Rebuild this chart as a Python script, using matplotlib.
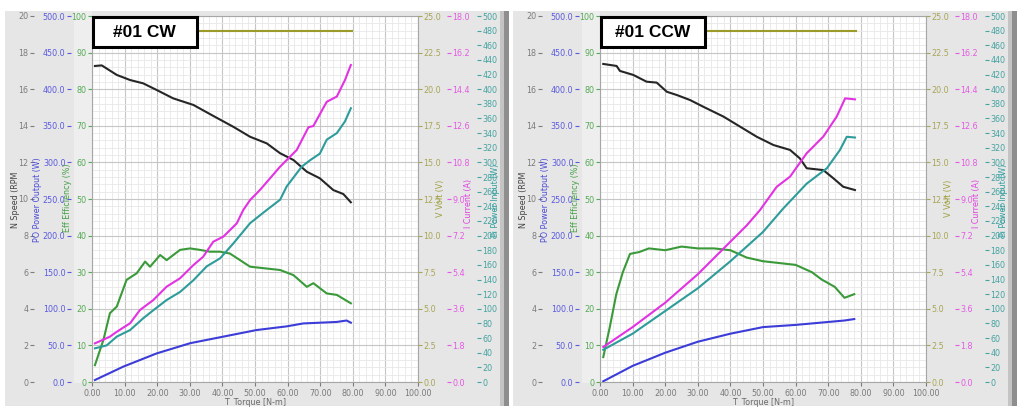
import matplotlib
matplotlib.use("Agg")
import matplotlib.pyplot as plt
from matplotlib.ticker import MultipleLocator, FormatStrFormatter
from matplotlib.patches import Rectangle

W, H = 1019, 415

# ---- #01 CW ----
cw_speed_t = [0.9, 3.0, 7.6, 11.7, 15.7, 19.8, 24.9, 31.1, 37.2, 43.3, 48.5, 53.6, 57.7, 61.8, 65.9, 69.9, 74.0, 77.1, 79.4]
cw_speed = [17.27, 17.3, 16.78, 16.5, 16.32, 15.96, 15.5, 15.14, 14.54, 13.95, 13.4, 13.04, 12.5, 12.13, 11.49, 11.13, 10.49, 10.27, 9.82]

cw_cur_t = [0.9, 5.5, 7.6, 11.7, 14.7, 18.8, 22.9, 27.0, 31.1, 34.1, 37.2, 40.3, 44.4, 46.4, 48.5, 51.5, 57.7, 62.8, 66.4, 67.9, 72.0, 75.1, 77.6, 79.4]
cw_cur = [1.90, 2.23, 2.47, 2.89, 3.54, 4.03, 4.69, 5.10, 5.75, 6.16, 6.90, 7.15, 7.80, 8.46, 8.95, 9.44, 10.59, 11.41, 12.53, 12.59, 13.78, 14.04, 14.85, 15.59]

cw_pin_t = [0.9, 4.5, 7.6, 11.7, 15.7, 18.8, 22.9, 27.0, 31.1, 35.2, 39.3, 43.3, 48.5, 53.6, 57.7, 59.7, 64.3, 66.9, 69.9, 72.0, 75.1, 77.6, 79.4]
cw_pin = [46, 50, 62, 71, 87, 98, 112, 123, 139, 158, 169, 189, 217, 235, 249, 267, 294, 303, 312, 331, 340, 356, 374]

cw_eff_t = [0.9, 3.5, 5.5, 7.6, 10.6, 13.7, 16.3, 17.8, 20.9, 22.9, 27.0, 30.1, 33.1, 36.2, 39.3, 42.3, 45.4, 48.5, 53.6, 57.7, 61.8, 65.9, 67.9, 72.0, 75.1, 79.4]
cw_eff = [4.6, 11.5, 18.8, 20.6, 27.9, 29.7, 32.9, 31.5, 34.7, 33.3, 36.1, 36.5, 36.1, 35.6, 35.6, 35.1, 33.3, 31.5, 31.0, 30.6, 29.2, 26.0, 27.0, 24.2, 23.8, 21.5]

cw_pout_t = [0.9, 9.6, 19.8, 30.1, 40.3, 50.5, 59.7, 64.8, 69.9, 75.0, 78.1, 79.4]
cw_pout = [2.7, 21, 39, 53, 62, 71, 76, 80, 81, 82, 84, 81]

cw_volt_t = [0.9, 20.0, 40.0, 60.0, 79.8]
cw_volt = [24.0, 24.0, 24.0, 24.0, 24.0]

# ---- #01 CCW ----
ccw_speed_t = [1.0, 5.1, 6.1, 10.2, 14.3, 17.4, 20.5, 23.6, 27.6, 31.7, 37.9, 43.0, 48.1, 53.2, 58.3, 61.3, 63.4, 68.5, 71.6, 74.6, 78.2]
ccw_speed = [17.38, 17.27, 17.0, 16.78, 16.41, 16.36, 15.86, 15.68, 15.41, 15.04, 14.5, 13.95, 13.4, 12.95, 12.68, 12.22, 11.68, 11.58, 11.13, 10.67, 10.49]

ccw_cur_t = [1.0, 10.0, 20.0, 30.0, 40.0, 45.0, 49.1, 54.2, 58.3, 63.4, 68.5, 72.6, 75.2, 78.2]
ccw_cur = [1.72, 2.7, 3.9, 5.3, 6.9, 7.7, 8.46, 9.6, 10.1, 11.25, 12.07, 13.05, 13.95, 13.9]

ccw_pin_t = [1.0, 10.0, 20.0, 30.0, 40.0, 50.0, 56.2, 63.4, 69.6, 73.6, 75.7, 78.2]
ccw_pin = [44, 66, 97, 128, 165, 205, 237, 271, 292, 317, 335, 334]

ccw_eff_t = [1.0, 3.0, 5.0, 7.0, 9.2, 12.0, 15.0, 20.0, 25.0, 30.0, 35.0, 40.0, 45.0, 50.0, 55.0, 60.0, 65.0, 68.0, 72.0, 75.0, 78.0]
ccw_eff = [6.8, 15, 24, 30, 35, 35.5, 36.5, 36, 37, 36.5, 36.5, 36, 34, 33, 32.5, 32, 30, 28, 26, 23, 24]

ccw_pout_t = [1.0, 10, 20, 30, 40, 50, 60, 65, 70, 75, 78]
ccw_pout = [1, 22, 40, 55, 66, 75, 78, 80, 82, 84, 86]

ccw_volt_t = [1.0, 20.0, 40.0, 60.0, 78.5]
ccw_volt = [24.0, 24.0, 24.0, 24.0, 24.0]

titles = ["#01 CW", "#01 CCW"]

C_SPEED, C_POUT, C_EFF = "#262626", "#3c3cd8", "#3a9a3a"
C_VOLT, C_CUR, C_PIN = "#9c9a28", "#e232e2", "#2e9c9a"

fig = plt.figure(figsize=(W / 100, H / 100), dpi=100)
fig.patch.set_facecolor("white")


def rect_px(x0, y0, x1, y1, color):
    fig.add_artist(Rectangle((x0 / W, 1 - y1 / H), (x1 - x0) / W, (y1 - y0) / H,
                             transform=fig.transFigure, fc=color, ec="none", zorder=-5))


def style_twin(a, side, outward_px, color, lim, step, fmt):
    a.set_ylim(*lim)
    for s in a.spines.values():
        s.set_visible(False)
    a.yaxis.set_ticks_position(side)
    a.spines[side].set_position(("outward", outward_px * 0.72))
    a.yaxis.set_major_locator(MultipleLocator(step))
    a.yaxis.set_major_formatter(FormatStrFormatter(fmt))
    a.tick_params(axis="y", colors=color, labelsize=5.8, length=3, width=0.8, pad=1)


def panel(x0, title, d):
    # panel background
    rect_px(x0 + 5, 11, x0 + 509, 406, "#e6e6e6")
    rect_px(x0 + 74, 11, x0 + 92, 383, "#eeeeee")
    rect_px(x0 + 500, 11, x0 + 504, 406, "#c4c4c4")
    rect_px(x0 + 504, 11, x0 + 509, 406, "#8e8e8e")

    ax = fig.add_axes([(x0 + 92) / W, 1 - 382 / H, 326 / W, 366 / H])
    ax.set_facecolor("white")
    ax.set_xlim(0, 100)
    ax.set_ylim(0, 100)
    ax.xaxis.set_major_locator(MultipleLocator(10))
    ax.xaxis.set_minor_locator(MultipleLocator(2))
    ax.yaxis.set_major_locator(MultipleLocator(10))
    ax.yaxis.set_minor_locator(MultipleLocator(2))
    ax.xaxis.set_major_formatter(FormatStrFormatter("%.2f"))
    ax.yaxis.set_major_formatter(FormatStrFormatter("%d"))
    ax.grid(which="major", color="#c6c6c6", lw=0.8)
    ax.grid(which="minor", color="#e8e8e8", lw=0.6)
    ax.set_axisbelow(True)
    for s in ax.spines.values():
        s.set_color("#a6a6a6")
        s.set_linewidth(0.8)
    ax.tick_params(axis="x", which="major", colors="#7a7a7a", labelsize=5.8, length=3, width=0.8, pad=2)
    ax.tick_params(axis="y", which="major", colors="#55aa55", labelsize=5.8, length=3, width=0.8, pad=1)
    ax.tick_params(which="minor", length=0)
    ax.set_xlabel("T  Torque [N-m]", fontsize=5.8, color="#6a6a6a", labelpad=0)

    sp = ax.twinx()
    style_twin(sp, "left", 58, "#7c7c7c", (0, 20), 2, "%d")
    po = ax.twinx()
    style_twin(po, "left", 21, "#5a5ae0", (0, 500), 50, "%.1f")
    vt = ax.twinx()
    style_twin(vt, "right", 0, "#a8a656", (0, 25), 2.5, "%.1f")
    cu = ax.twinx()
    style_twin(cu, "right", 29, "#e45ae4", (0, 18), 1.8, "%.1f")
    pi = ax.twinx()
    style_twin(pi, "right", 59, "#45a3a1", (0, 500), 20, "%d")

    lw = 1.5
    ax.plot(d["eff_t"], d["eff"], color=C_EFF, lw=lw)
    po.plot(d["pout_t"], d["pout"], color=C_POUT, lw=lw)
    pi.plot(d["pin_t"], d["pin"], color=C_PIN, lw=lw)
    cu.plot(d["cur_t"], d["cur"], color=C_CUR, lw=lw)
    sp.plot(d["speed_t"], d["speed"], color=C_SPEED, lw=lw)
    vt.plot(d["volt_t"], d["volt"], color=C_VOLT, lw=lw)

    # title box on top of everything
    pi.add_patch(Rectangle((0.003, 0.915), 0.319, 0.082, transform=pi.transAxes,
                           fc="white", ec="black", lw=2.2, zorder=10, clip_on=False))
    pi.text(0.162, 0.955, title, transform=pi.transAxes, ha="center", va="center",
            fontsize=12.5, fontweight="bold", family="Liberation Sans", zorder=11)

    # axis titles
    lab = dict(rotation=90, ha="center", va="center", fontsize=5.8)
    fig.text((x0 + 16) / W, 1 - 200 / H, "N Speed (RPM", color="#444444", **lab)
    fig.text((x0 + 37) / W, 1 - 200 / H, "PO Power Output (W)", color="#4a4ad8", **lab)
    fig.text((x0 + 68) / W, 1 - 198 / H, "Eff Efficiency (%)", color="#44a044", **lab)
    fig.text((x0 + 440) / W, 1 - 198 / H, "V Volt (V)", color="#a0a040", **lab)
    fig.text((x0 + 468) / W, 1 - 203 / H, "I Current (A)", color="#e040e0", **lab)
    fig.text((x0 + 496) / W, 1 - 200 / H, "Pi Power Input (W)", color="#30a0a0", **lab)


cw = dict(speed_t=cw_speed_t, speed=cw_speed, cur_t=cw_cur_t, cur=cw_cur,
          pin_t=cw_pin_t, pin=cw_pin, eff_t=cw_eff_t, eff=cw_eff,
          pout_t=cw_pout_t, pout=cw_pout, volt_t=cw_volt_t, volt=cw_volt)
ccw = dict(speed_t=ccw_speed_t, speed=ccw_speed, cur_t=ccw_cur_t, cur=ccw_cur,
           pin_t=ccw_pin_t, pin=ccw_pin, eff_t=ccw_eff_t, eff=ccw_eff,
           pout_t=ccw_pout_t, pout=ccw_pout, volt_t=ccw_volt_t, volt=ccw_volt)

panel(0, titles[0], cw)
panel(508, titles[1], ccw)

fig.savefig("out.png", dpi=100)
